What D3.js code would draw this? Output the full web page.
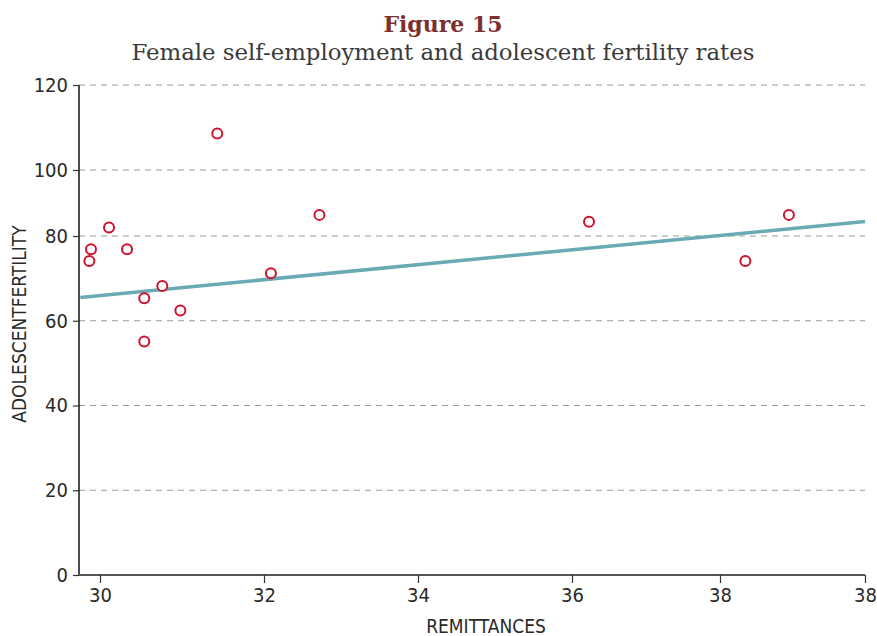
<!DOCTYPE html>
<html>
<head>
<meta charset="utf-8">
<script src="https://cdn.jsdelivr.net/npm/d3@7"></script>
<style>
  html, body { margin: 0; padding: 0; background: #fff; }
  svg { display: block; }
</style>
</head>
<body>
<svg id="chart" width="877" height="636"></svg>
<script>
// Remittances (x) against adolescent fertility (y), one point per observation
const remittances = [29.87, 29.89, 30.11, 30.33, 30.54, 30.54, 30.76, 30.98, 31.43, 32.09, 32.72, 36.23, 38.35, 38.95];
const fertility   = [74.1, 76.9, 82.6, 76.9, 65.3, 55.1, 68.2, 62.4, 108.6, 71.2, 86.4, 84.3, 74.1, 86.4];

// Fitted trend line, start and end in data units
const fitX = [29.76, 40];
const fitY = [65.5, 84.4];

// Axis ticks and the labels printed at them
const xTicks = [30, 32, 34, 36, 38, 40];
const xTickLabels = ["30", "32", "34", "36", "38", "38"];
const yTicks = [0, 20, 40, 60, 80, 100, 120];
const yTickLabels = ["0", "20", "40", "60", "80", "100", "120"];

const svg = d3.select("#chart");
const plotLeft = 79, plotRight = 865, plotTop = 85, plotBottom = 575;

// Piecewise scales follow the printed tick positions of the axes
const x = d3.scaleLinear()
  .domain([30, 32, 34, 36, 38, 40])
  .range([100, 264, 418, 572, 720, 865]);
const y = d3.scaleLinear()
  .domain([0, 80, 100, 120])
  .range([plotBottom, 236, 170, plotTop]);

const sans = "'Liberation Sans Narrow', 'DejaVu Sans Condensed', Roboto, sans-serif";

// Titles
svg.append("text")
  .attr("x", 443).attr("y", 32)
  .attr("text-anchor", "middle")
  .attr("font-family", "'DejaVu Serif', serif")
  .attr("font-weight", "bold")
  .attr("font-size", 22)
  .attr("fill", "#7d2f2b")
  .text("Figure 15");
svg.append("text")
  .attr("x", 443).attr("y", 60)
  .attr("text-anchor", "middle")
  .attr("font-family", "'DejaVu Serif', serif")
  .attr("font-size", 22)
  .attr("fill", "#3a3a3a")
  .attr("textLength", 623)
  .attr("lengthAdjust", "spacingAndGlyphs")
  .text("Female self-employment and adolescent fertility rates");

// Horizontal dashed gridlines
svg.append("g")
  .selectAll("line")
  .data(yTicks.filter(d => d > 0))
  .join("line")
  .attr("x1", plotLeft).attr("x2", plotRight)
  .attr("y1", d => y(d)).attr("y2", d => y(d))
  .attr("stroke", "#9a9a9a")
  .attr("stroke-width", 1.2)
  .attr("stroke-dasharray", "6,5");

// Y axis
const yAxis = svg.append("g")
  .attr("transform", `translate(${plotLeft},0)`)
  .call(d3.axisLeft(y).tickValues(yTicks).tickSize(6).tickPadding(5)
    .tickFormat((d, i) => yTickLabels[i]));
yAxis.select(".domain").attr("d", `M0,${plotTop}V${plotBottom}`).attr("stroke", "#111").attr("stroke-width", 1.5);
yAxis.selectAll(".tick line").attr("stroke", "#333").attr("stroke-width", 1.2);
yAxis.selectAll(".tick text").attr("font-family", sans).attr("font-size", 20).attr("fill", "#2a2a2a");

// X axis
const xAxis = svg.append("g")
  .attr("transform", `translate(0,${plotBottom})`)
  .call(d3.axisBottom(x).tickValues(xTicks).tickSize(8).tickPadding(5)
    .tickFormat((d, i) => xTickLabels[i]));
xAxis.select(".domain").attr("d", `M${plotLeft},0H${plotRight}`).attr("stroke", "#555").attr("stroke-width", 2.2);
xAxis.selectAll(".tick line").attr("stroke", "#333").attr("stroke-width", 1.2);
xAxis.selectAll(".tick text").attr("font-family", sans).attr("font-size", 20).attr("fill", "#2a2a2a");

// Axis titles
svg.append("text")
  .attr("x", 486).attr("y", 633)
  .attr("text-anchor", "middle")
  .attr("font-family", sans).attr("font-size", 19).attr("fill", "#2a2a2a")
  .text("REMITTANCES");
svg.append("text")
  .attr("transform", "translate(26,324) rotate(-90)")
  .attr("text-anchor", "middle")
  .attr("font-family", sans).attr("font-size", 19).attr("fill", "#2a2a2a")
  .text("ADOLESCENTFERTILITY");

// Trend line
svg.append("path")
  .datum(d3.zip(fitX, fitY))
  .attr("d", d3.line().x(d => x(d[0])).y(d => y(d[1])))
  .attr("fill", "none")
  .attr("stroke", "#6aaab5")
  .attr("stroke-width", 3.5);

// Scatter points
svg.append("g")
  .selectAll("circle")
  .data(d3.zip(remittances, fertility))
  .join("circle")
  .attr("cx", d => x(d[0]))
  .attr("cy", d => y(d[1]))
  .attr("r", 5)
  .attr("fill", "#fff")
  .attr("stroke", "#d0112b")
  .attr("stroke-width", 2);
</script>
</body>
</html>
